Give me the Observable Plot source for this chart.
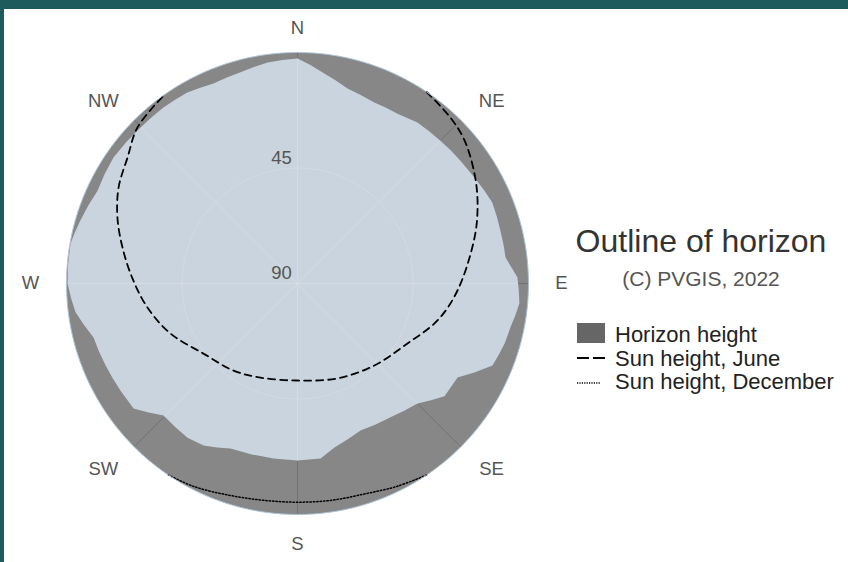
<!DOCTYPE html>
<html>
<head>
<meta charset="utf-8">
<script src="https://cdn.jsdelivr.net/npm/d3@7"></script>
<script src="https://cdn.jsdelivr.net/npm/@observablehq/plot@0.6"></script>
<style>
  body { margin: 0; background: #fff; }
  #wrap { position: relative; width: 848px; height: 562px; overflow: hidden; background: #fff; font-family: "Liberation Sans", Arial, sans-serif; }
  #wrap svg.plot { position: absolute; left: 0; top: 0; }
  .bar { position: absolute; background: #1d5b5c; }
  .t { position: absolute; white-space: nowrap; line-height: 1; }
</style>
</head>
<body>
<div id="wrap"></div>
<script>
// Horizon outline (azimuth from North, clockwise; elevation in degrees)
const horizonAz = [0, 6.8, 14.4, 23, 30.5, 36.7, 45, 53, 59, 67.4, 75.4, 82.9, 88.4, 95.1, 101.7, 106.2, 112.8, 120.4, 127.5, 135, 145.2, 156.8, 167.3, 172.5, 180, 187.8, 202.1, 210.1, 215.5, 225.4, 232.7, 238.8, 255.2, 262.6, 270, 280, 286.2, 294.9, 304.4, 314.8, 322.7, 330, 337.2, 344.9, 352.3];
const horizonEl = [2.3, 7.2, 11.6, 13.4, 13.2, 11.8, 11.3, 10.5, 9.7, 7.8, 8.3, 8.3, 4.3, 3.2, 5.3, 6.0, 7.6, 17.7, 17.8, 23.9, 26.5, 27.7, 24.5, 21.2, 21.0, 21.2, 20.6, 17.0, 16.2, 16.7, 9.7, 9.4, 7.8, 2.8, 0.4, 0.2, 1.9, 4.1, 3.1, 3.8, 3.8, 4.1, 5.5, 4.8, 3.1];

// Sun path, June (dashed)
const juneAz = [34, 42.7, 49.4, 58.1, 66, 75.4, 92.5, 104.8, 118.6, 136.8, 157.2, 180, 201.5, 216.3, 233.3, 248.5, 260.9, 271.7, 281.6, 290.1, 298.2, 306.5, 314.3, 324.8];
const juneEl = [0, 2.1, 4.3, 8.8, 13.2, 18.7, 27.6, 33.6, 41.2, 46.2, 49.9, 52.2, 50.6, 47.9, 44.3, 36.8, 30.8, 25.7, 20.4, 15.3, 10.9, 7.6, 2.9, 0];

// Sun path, December (dotted)
const decAz = [146, 154, 162, 171, 180, 189, 198, 207, 214];
const decEl = [0, 2.0, 3.9, 4.5, 4.8, 4.5, 3.3, 1.2, 0];

// Axis labels
const directions = ["N", "NE", "E", "SE", "S", "SW", "W", "NW"];
const directionAz = [0, 45, 90, 135, 180, 225, 270, 315];
const radialTicks = [45, 90];

// Legend texts
const titleText = "Outline of horizon";
const subtitleText = "(C) PVGIS, 2022";
const legendLabels = ["Horizon height", "Sun height, June", "Sun height, December"];

// Label placement (style): elevation below horizon and pixel nudges [elev, dx, dy]
const labelOffset = {N: [-9.7, 0, 0], NE: [-12, 9, 3], E: [-12.8, 0, 0], SE: [-12, 9, 0], S: [-11.5, 0, 0], SW: [-12, -9, 0], W: [-14, 0, 0], NW: [-12, -9, 3]};

const lon = az => 180 - az;

// Sky region polygon (inside the horizon)
const ring = horizonAz.map((a, i) => [lon(a), horizonEl[i]]);
ring.push(ring[0]);
let sky = {type: "Polygon", coordinates: [ring]};
if (d3.geoArea(sky) > 2 * Math.PI) sky = {type: "Polygon", coordinates: [ring.slice().reverse()]};

const outer = d3.geoCircle().center([0, 90]).radius(90)();
const circle45 = d3.geoCircle().center([0, 90]).radius(45)();

const dirData = directions.map((d, i) => ({label: d, az: directionAz[i]}));
const juneData = juneAz.map((a, i) => ({az: a, el: juneEl[i]}));
const decData = decAz.map((a, i) => ({az: a, el: decEl[i]}));
const tickData = radialTicks.map(v => ({v}));

const labelMarks = dirData.map(d => Plot.text([d], {
  x: lon(d.az), y: labelOffset[d.label][0], dx: labelOffset[d.label][1], dy: labelOffset[d.label][2], text: "label",
  fill: "#555", fontSize: 18.5, textAnchor: "middle", lineAnchor: "middle"
}));

const chart = Plot.plot({
  width: 848,
  height: 562,
  marginLeft: 66,
  marginRight: 320,
  marginTop: 52,
  marginBottom: 48,
  projection: {
    type: "azimuthal-equidistant",
    rotate: [0, -90],
    domain: outer,
    inset: 0,
    clip: false
  },
  style: {fontFamily: "'Liberation Sans', Arial, sans-serif", background: "transparent", overflow: "visible"},
  marks: [
    Plot.geo(outer, {fill: "#878787", stroke: "none"}),
    Plot.link(dirData, {x1: d => lon(d.az), y1: 0, x2: d => lon(d.az), y2: 90, stroke: "#727272", strokeWidth: 1}),
    Plot.geo(sky, {fill: "#c9d4de", stroke: "none"}),
    Plot.link(dirData, {x1: d => lon(d.az), y1: 0, x2: d => lon(d.az), y2: 90, stroke: "#d4dbe2", strokeWidth: 1, clip: sky}),
    Plot.geo(circle45, {fill: "none", stroke: "#d4dbe2", strokeWidth: 1}),
    Plot.line(juneData, {x: d => lon(d.az), y: "el", curve: "catmull-rom", stroke: "#000", strokeWidth: 1.8, strokeDasharray: "7,5"}),
    Plot.line(decData, {x: d => lon(d.az), y: "el", curve: "catmull-rom", stroke: "#000", strokeWidth: 1.5, strokeDasharray: "1.4,2"}),
    Plot.geo(outer, {fill: "none", stroke: "#afc2d5", strokeWidth: 1}),
    ...labelMarks,
    Plot.text(tickData, {x: 180, y: "v", text: d => String(d.v), fill: "#555", fontSize: 18.5, textAnchor: "middle", lineAnchor: "middle", dx: -16, dy: -10})
  ]
});
chart.classList.add("plot");

const wrap = document.getElementById("wrap");
wrap.appendChild(chart);

function add(html) { wrap.insertAdjacentHTML("beforeend", html); }
add(`<div class="bar" style="left:0;top:0;width:848px;height:9px"></div>`);
add(`<div class="bar" style="left:0;top:0;width:4px;height:562px"></div>`);
add(`<div class="t" style="left:560px;width:282px;top:225px;text-align:center;font-size:32px;color:#333">${titleText}</div>`);
add(`<div class="t" style="left:560px;width:282px;top:268px;text-align:center;font-size:21px;color:#555">${subtitleText}</div>`);
add(`<div style="position:absolute;left:577px;top:323px;width:28px;height:20px;background:#666"></div>`);
add(`<svg style="position:absolute;left:577px;top:351px" width="30" height="14"><line x1="0" x2="28" y1="7" y2="7" stroke="#000" stroke-width="2" stroke-dasharray="12,4"/></svg>`);
add(`<svg style="position:absolute;left:577px;top:376px" width="30" height="14"><line x1="0" x2="23" y1="7" y2="7" stroke="#000" stroke-width="1.5" stroke-dasharray="1.2,1.2"/></svg>`);
const tops = [324, 348, 371];
legendLabels.forEach((l, i) => add(`<div class="t" style="left:615px;top:${tops[i]}px;font-size:22px;color:#222">${l}</div>`));
</script>
</body>
</html>
